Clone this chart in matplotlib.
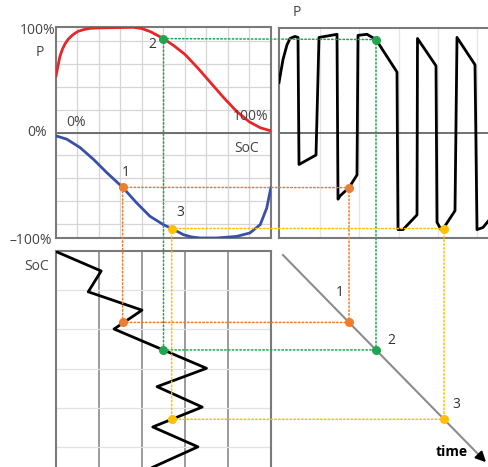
import matplotlib
matplotlib.use('Agg')
import numpy as np
from matplotlib import pyplot as plt
from matplotlib.patches import ConnectionPatch

plt.rcParams['font.family'] = ['Open Sans', 'DejaVu Sans']

W, H = 489, 467

# P(SoC) while charging / discharging, in % (top left)
soc_charge = [0, 1, 1.9, 3, 4.2, 5.7, 7.3, 8.8, 10.4, 13, 15.8, 20, 28, 36, 40, 44, 50, 55, 60, 66, 72, 78, 84, 90, 95, 100]
p_charge = [53.6, 64, 72.7, 79, 84, 88.5, 91.7, 94, 96, 97.6, 98.7, 99.1, 99.4, 99.7, 98.5, 95.5, 89, 82, 74, 61, 47, 33, 20, 10, 4.5, 1.5]
soc_dis = [0, 5, 11.2, 17.4, 23.6, 31, 37.5, 43.7, 49.9, 53.8, 59.2, 63, 67, 74.7, 84, 90.2, 95, 98, 99.9]
p_dis = [-3.2, -6.3, -14.3, -25.4, -38, -52, -66.7, -79.4, -87.3, -91, -96.8, -99, -100, -100, -98.5, -95.2, -87.3, -71.7, -52.7]

# P over time (top right)
t_power = [0, 4, 8, 11, 16, 19, 20, 37, 40, 58, 59, 61, 70, 78, 79, 88, 97, 118, 119, 124, 138, 138.5,
           157, 158, 162, 165, 176, 178, 196, 198, 204, 210]
p_power = [48, 70, 84, 90, 92, 91, -30, -21, 91, 94, -63, -60, -52, -40, 93, 94, 89, 58, -92, -92, -78, 90,
           64, -85, -92, -90, -74, 91, 65, -92, -90, -83]

# SoC over time (bottom left, time runs downwards)
t_soc = [1, 19.6, 40, 58, 76.5, 115, 133, 153, 172.5, 192, 212]
soc_time = [0.5, 21, 15, 40, 27, 70, 47, 68, 45, 66, 45]

# marked operating points 1, 2, 3
pt_labels = ['1', '2', '3']
pt_soc = [31, 50, 53.8]
pt_p = [-52, 89, -91]
pt_t = [70, 97, 165]
pt_colors = ['#ED7D31', '#1FA64F', '#FFC000']

tscale = 1.02  # px per time unit in the lower panels


def px_axes(l, t, r, b):
    return fig.add_axes([l / W, 1 - b / H, (r - l) / W, (b - t) / H])


def px_text(x, y, s, **kw):
    kw.setdefault('fontsize', 10)
    kw.setdefault('color', '#444444')
    kw.setdefault('ha', 'center')
    kw.setdefault('va', 'center')
    fig.text(x / W, 1 - y / H, s, **kw)


fig = plt.figure(figsize=(W / 100, H / 100), dpi=100)

frame_c = '#7a7a7a'

# top left: P vs SoC
axA = px_axes(56, 27, 271, 238)
axA.set_xlim(0, 100)
axA.set_ylim(-100, 100)
for x in np.arange(10, 100, 10):
    axA.axvline(x, color='#d6d6d6', lw=0.9, zorder=0)
for y in np.arange(-87, 88, 21.75):
    axA.axhline(y, color='#d6d6d6', lw=0.9, zorder=0)
axA.axhline(0, color='#5a5a5a', lw=1.2, zorder=1)
axA.plot(soc_charge, p_charge, color='#E8262A', lw=2, zorder=3)
axA.plot(soc_dis, p_dis, color='#3A4FA8', lw=2, zorder=3)

# top right: P vs time
axB = px_axes(279, 28, 493, 238)
axB.set_xlim(0, 214)
axB.set_ylim(-100, 100)
for x in np.arange(41, 210, 39.3):
    axB.axvline(x, color='#e6e6e6', lw=0.9, zorder=0)
axB.axhline(0, color='#5a5a5a', lw=1.2, zorder=1)
axB.plot(t_power, p_power, color='black', lw=2, zorder=3)

# bottom left: SoC vs time
axC = px_axes(56, 251, 271, 470)
axC.set_xlim(0, 100)
axC.set_ylim(219 / tscale, 0)
for x in [20, 40, 60, 80]:
    axC.axvline(x, color='#8a8a8a', lw=1.2, zorder=0)
for y in np.arange(38, 214, 38.6):
    axC.axhline(y, color='#e2e2e2', lw=0.9, zorder=0)
axC.plot(soc_time, t_soc, color='black', lw=2, zorder=3)

# bottom right: time mapped onto itself
axD = px_axes(279, 251, 493, 470)
axD.set_xlim(0, 214)
axD.set_ylim(219 / tscale, 0)
axD.axis('off')
axD.plot([4, 203], [4, 203], color='#8c8c8c', lw=1.5)
axD.annotate('', xy=(209, 209), xytext=(201, 201),
             arrowprops=dict(arrowstyle='-|>,head_length=0.6,head_width=0.3', color='black', lw=1.5))

for ax in (axA, axB, axC):
    ax.set_xticks([])
    ax.set_yticks([])
    for sp in ax.spines.values():
        sp.set_color(frame_c)
        sp.set_linewidth(1.5)

# dotted helper lines between the panels
for s, p, t, c in zip(pt_soc, pt_p, pt_t, pt_colors):
    links = [((s, p), axA, (t, p), axB),
             ((s, p), axA, (s, t), axC),
             ((s, t), axC, (t, t), axD),
             ((t, p), axB, (t, t), axD)]
    for xa, a, xb, b in links:
        con = ConnectionPatch(xyA=xa, coordsA=a.transData, xyB=xb, coordsB=b.transData,
                              color=c, lw=1.1, linestyle=(0, (1, 1.5)), zorder=2)
        fig.add_artist(con)

for s, p, t, c in zip(pt_soc, pt_p, pt_t, pt_colors):
    axA.plot(s, p, 'o', color=c, ms=5.5, zorder=5, clip_on=False)
    axB.plot(t, p, 'o', color=c, ms=5.5, zorder=5, clip_on=False)
    axC.plot(s, t, 'o', color=c, ms=5.5, zorder=5, clip_on=False)
    axD.plot(t, t, 'o', color=c, ms=5.5, zorder=5, clip_on=False)

# labels
px_text(38, 31, '100%')
px_text(40, 53, 'P')
px_text(37, 133, '0%')
px_text(31, 240, '–100%')
px_text(76, 123, '0%')
px_text(251, 117, '100%')
px_text(247, 149, 'SoC')
px_text(297, 12, 'P')
px_text(37, 267, 'SoC')
px_text(452, 452, 'time', color='black', fontweight='bold')

for lbl, xy in zip(pt_labels, [(126, 173), (152, 44), (180, 213)]):
    px_text(xy[0], xy[1], lbl, color='#333333')
for lbl, xy in zip(pt_labels, [(340, 292), (391, 340), (456, 404)]):
    px_text(xy[0], xy[1], lbl, color='#333333')

fig.savefig('out.png', dpi=100)
